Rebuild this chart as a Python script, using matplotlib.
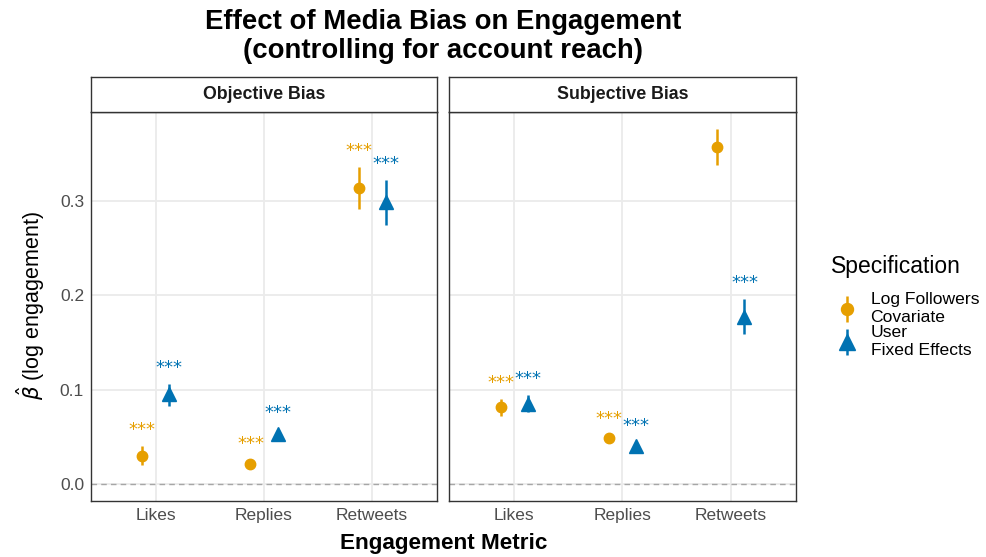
import matplotlib
matplotlib.use("Agg")
import matplotlib.pyplot as plt
from matplotlib.container import ErrorbarContainer
from matplotlib.legend_handler import HandlerErrorbar
import numpy as np

plt.rcParams['font.family'] = ['Liberation Sans', 'DejaVu Sans']

categories = ["Likes", "Replies", "Retweets"]
panels = ["Objective Bias", "Subjective Bias"]
specs = ["Log Followers\nCovariate", "User\nFixed Effects"]
legend_title = "Specification"

# estimates [panel][spec][category]
est_obj_cov = [0.030, 0.021, 0.314]
lo_obj_cov = [0.020, 0.017, 0.292]
hi_obj_cov = [0.040, 0.025, 0.336]
est_obj_fe = [0.095, 0.053, 0.299]
lo_obj_fe = [0.083, 0.048, 0.275]
hi_obj_fe = [0.106, 0.058, 0.322]

est_sub_cov = [0.081, 0.049, 0.357]
lo_sub_cov = [0.072, 0.046, 0.338]
hi_sub_cov = [0.090, 0.052, 0.376]
est_sub_fe = [0.085, 0.040, 0.177]
lo_sub_fe = [0.076, 0.036, 0.159]
hi_sub_fe = [0.094, 0.044, 0.196]

sig_obj_cov = ["***", "***", "***"]
sig_obj_fe = ["***", "***", "***"]
sig_sub_cov = ["***", "***", "***"]
sig_sub_fe = ["***", "***", "***"]

yticks = [0.0, 0.1, 0.2, 0.3]

data = {
    "Objective Bias": [(est_obj_cov, lo_obj_cov, hi_obj_cov, sig_obj_cov),
                       (est_obj_fe, lo_obj_fe, hi_obj_fe, sig_obj_fe)],
    "Subjective Bias": [(est_sub_cov, lo_sub_cov, hi_sub_cov, sig_sub_cov),
                        (est_sub_fe, lo_sub_fe, hi_sub_fe, sig_sub_fe)],
}

colors = ["#E69F00", "#0072B2"]
markers = ["o", "^"]
msizes = [7.5, 9.5]
offsets = [-0.125, 0.125]

W, H = 987, 557
fig = plt.figure(figsize=(W / 100, H / 100), dpi=100)

def fx(px):
    return px / W

def fy(py):
    return 1 - py / H

panel_x = [(91, 437), (449, 796)]
ptop, pbot = 112, 501
strip_top = 77

ylim = (-0.0182, 0.3945)
handles = []
for i, (pname, (x0, x1)) in enumerate(zip(panels, panel_x)):
    ax = fig.add_axes([fx(x0), fy(pbot), fx(x1 - x0), fy(ptop) - fy(pbot)])
    ax.set_xlim(0.4, 3.6)
    ax.set_ylim(*ylim)
    ax.set_xticks([1, 2, 3])
    ax.set_xticklabels(categories)
    ax.set_yticks(yticks)
    if i == 0:
        ax.set_yticklabels([f"{v:.1f}" for v in yticks])
    else:
        ax.set_yticklabels([])
    ax.tick_params(length=0, labelsize=12.5, labelcolor="#4D4D4D", pad=5)
    ax.grid(True, color="#EBEBEB", linewidth=1.3)
    ax.set_axisbelow(True)
    for sp in ax.spines.values():
        sp.set_color("#333333")
        sp.set_linewidth(1.0)
    ax.axhline(0, color="#A6A6A6", linestyle=(0, (4, 3)), linewidth=1.0, zorder=1)
    xs = np.arange(1, len(categories) + 1)
    for s, (est, lo, hi, sig) in enumerate(data[pname]):
        xpos = xs + offsets[s]
        est = np.array(est); lo = np.array(lo); hi = np.array(hi)
        h = ax.errorbar(xpos, est, yerr=[est - lo, hi - est], fmt=markers[s],
                        color=colors[s], ms=msizes[s], elinewidth=1.8,
                        capsize=0, zorder=3, label=specs[s])
        if i == 0:
            handles.append(h)
        for xx, yy, ss in zip(xpos, hi, sig):
            t = ax.text(xx, yy + 0.017, ss, color=colors[s], ha="center",
                        va="center", fontsize=13, zorder=4,
                        family=["DejaVu Sans"], clip_on=True)
            t.set_clip_path(ax.patch)
    # strip
    sax = fig.add_axes([fx(x0), fy(ptop), fx(x1 - x0), fy(strip_top) - fy(ptop)])
    sax.set_xticks([]); sax.set_yticks([])
    for sp in sax.spines.values():
        sp.set_color("#333333")
        sp.set_linewidth(1.0)
    sax.text(0.5, 0.5, pname, ha="center", va="center", fontsize=12.8,
             fontweight="bold", color="#1A1A1A", transform=sax.transAxes)

fig.text(fx(443.5), fy(9), "Effect of Media Bias on Engagement\n(controlling for account reach)",
         ha="center", va="top", fontsize=19.8, fontweight="bold", linespacing=1.15)
fig.text(fx(443.5), fy(543), "Engagement Metric", ha="center", va="center",
         fontsize=16.2, fontweight="bold")
fig.text(fx(31), fy(306), r"$\hat{\beta}$ (log engagement)", ha="center", va="center",
         rotation=90, fontsize=15.5)

fig.text(fx(831), fy(266), legend_title, ha="left", va="center", fontsize=16.5)
leg = fig.legend(handles=handles, labels=specs, loc="upper left",
                 bbox_to_anchor=(fx(826), fy(282)), frameon=False,
                 fontsize=12.6, borderpad=0.1,
                 handlelength=1.2, handletextpad=0.75, labelspacing=0.0,
                 markerscale=1.15,
                 handler_map={ErrorbarContainer: HandlerErrorbar(yerr_size=0.75)})
for txt in leg.get_texts():
    txt.set_linespacing(1.25)

fig.savefig("out.png", dpi=100)
